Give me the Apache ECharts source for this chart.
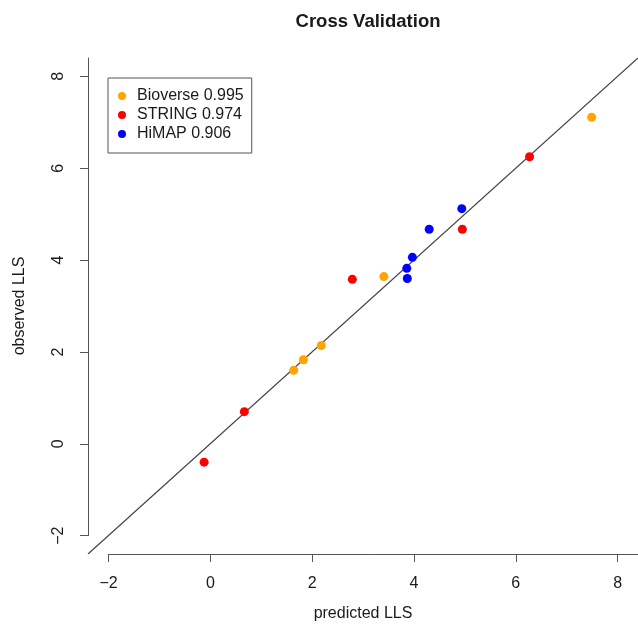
<!DOCTYPE html>
<html>
<head>
<meta charset="utf-8">
<script src="https://cdn.jsdelivr.net/npm/echarts@6/dist/echarts.min.js"></script>
<style>
  html, body { margin: 0; padding: 0; background: #fff; }
  #chart { width: 638px; height: 632px; }
</style>
</head>
<body>
<div id="chart"></div>
<script>
// data
const methods = ['Bioverse', 'STRING', 'HiMAP'];
const scores = ['0.995', '0.974', '0.906'];
const colors = ['#FFA500', '#FF0000', '#0000FF'];

const bioverse = [[7.49, 7.11], [3.41, 3.64], [2.18, 2.14], [1.83, 1.83], [1.64, 1.60]];
const stringPts = [[6.27, 6.25], [4.95, 4.67], [2.79, 3.58], [0.67, 0.70], [-0.12, -0.40]];
const himap = [[4.94, 5.12], [4.30, 4.67], [3.97, 4.06], [3.86, 3.82], [3.87, 3.60]];

const ticks = [-2, 0, 2, 4, 6, 8];
const lim = [-2.4, 8.4];

// plot region in pixels
const plotLeft = 88, plotTop = 58, plotBottomY = 554, plotRightX = 642;
const W = 638, H = 632;
const pxX = (plotRightX - plotLeft) / (lim[1] - lim[0]);
const pxY = (plotBottomY - plotTop) / (lim[1] - lim[0]);
const axLeft = plotLeft + (ticks[0] - lim[0]) * pxX;
const axBottom = H - (plotBottomY - (ticks[0] - lim[0]) * pxY);

const font = 'Liberation Sans, Arial, Helvetica, sans-serif';
const textCol = '#1a1a1a';
const lineCol = '#555';
const minus = v => String(v).replace('-', '\u2212');

const chart = echarts.init(document.getElementById('chart'));
const scoreOf = {};
methods.forEach((m, i) => scoreOf[m] = scores[i]);

const pointSeries = [bioverse, stringPts, himap].map((d, i) => ({
  name: methods[i],
  type: 'scatter',
  xAxisIndex: 0, yAxisIndex: 0,
  data: d,
  symbol: 'circle',
  symbolSize: 9,
  itemStyle: { color: colors[i], opacity: 1 },
  z: 3
}));

chart.setOption({
  animation: false,
  backgroundColor: '#fff',
  title: {
    text: 'Cross Validation',
    left: 363,
    top: 7,
    textAlign: 'center',
    textStyle: { fontFamily: font, fontSize: 18.5, fontWeight: 'bold', color: textCol }
  },
  legend: {
    data: methods,
    orient: 'vertical',
    left: 108, top: 78,
    padding: [10, 8, 11, 10],
    itemGap: 3,
    itemWidth: 20, itemHeight: 8,
    icon: 'circle',
    borderColor: lineCol, borderWidth: 1,
    formatter: n => n + ' ' + scoreOf[n],
    itemStyle: { opacity: 1 },
    textStyle: { fontFamily: font, fontSize: 16, color: textCol }
  },
  grid: [
    { left: plotLeft, right: W - plotRightX, top: plotTop, bottom: H - plotBottomY },
    { left: axLeft, right: W - plotRightX, top: plotTop, bottom: axBottom }
  ],
  xAxis: [
    {
      gridIndex: 0, type: 'value', min: lim[0], max: lim[1],
      axisLine: { show: false }, axisTick: { show: false }, axisLabel: { show: false },
      splitLine: { show: false },
      name: 'predicted LLS', nameLocation: 'middle', nameGap: 52,
      nameTextStyle: { fontFamily: font, fontSize: 16, color: textCol }
    },
    {
      gridIndex: 1, type: 'value', min: ticks[0], max: lim[1],
      position: 'bottom',
      offset: axBottom - (H - plotBottomY),
      axisLine: { show: true, onZero: false, lineStyle: { color: lineCol, width: 1 } },
      axisTick: { show: true, customValues: ticks, length: 8, lineStyle: { color: lineCol } },
      axisLabel: { customValues: ticks, margin: 22, formatter: minus, fontFamily: font, fontSize: 16, color: textCol },
      splitLine: { show: false }
    }
  ],
  yAxis: [
    {
      gridIndex: 0, type: 'value', min: lim[0], max: lim[1],
      axisLine: { show: false }, axisTick: { show: false }, axisLabel: { show: false },
      splitLine: { show: false },
      name: 'observed LLS', nameLocation: 'middle', nameGap: 60,
      nameTextStyle: { fontFamily: font, fontSize: 16, color: textCol }
    },
    {
      gridIndex: 1, type: 'value', min: ticks[0], max: lim[1],
      position: 'left',
      offset: axLeft - plotLeft,
      axisLine: { show: true, onZero: false, lineStyle: { color: lineCol, width: 1 } },
      axisTick: { show: true, customValues: ticks, length: 8, lineStyle: { color: lineCol } },
      axisLabel: { customValues: ticks, margin: 21, rotate: 90, formatter: minus, fontFamily: font, fontSize: 16, color: textCol },
      splitLine: { show: false }
    }
  ],
  series: [
    {
      name: 'y = x',
      type: 'line',
      xAxisIndex: 0, yAxisIndex: 0,
      data: [[lim[0], lim[0]], [lim[1], lim[1]]],
      symbol: 'none',
      silent: true,
      lineStyle: { color: '#444', width: 1.2 },
      z: 1
    }
  ].concat(pointSeries)
});
</script>
</body>
</html>
